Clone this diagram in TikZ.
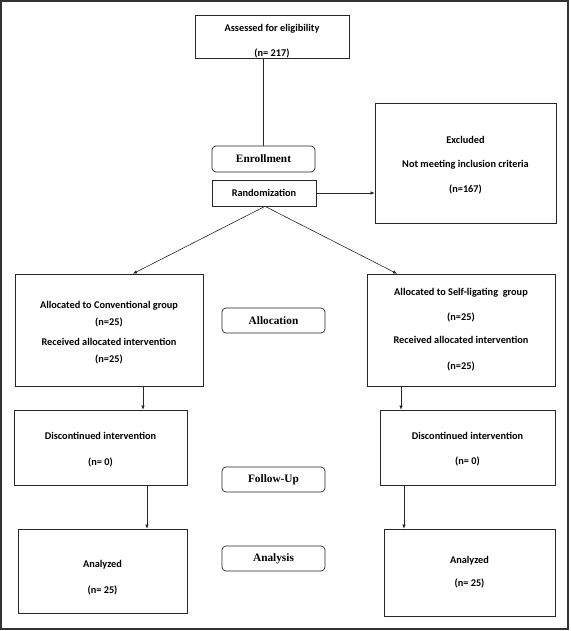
\documentclass[tikz,border=0pt]{standalone}
\usepackage{fontspec}
\usepackage{xcolor}
\usepackage{tikz}
\usetikzlibrary{arrows.meta,positioning}
\newfontfamily\boxfont{Carlito}
\newfontfamily\stagefont{Liberation Serif}

\begin{document}
\begin{tikzpicture}[x=1pt,y=-1pt,
    box/.style={draw=black!85,line width=0.7pt,align=center,inner sep=0pt,
      font=\boxfont\bfseries\fontsize{10.3}{12}\selectfont},
    stage/.style={draw=black!85,line width=0.7pt,rounded corners=4pt,
      minimum width=103pt,minimum height=25pt,inner sep=0pt,
      font=\stagefont\bfseries\fontsize{11.3}{13}\selectfont},
    flow/.style={draw=black!85,line width=0.6pt,-{Latex[length=4pt,width=3.5pt]}}]
    \useasboundingbox (0,0) rectangle (570,631);
    \draw[black!80,line width=2pt] (1,1) rectangle (568,629);

    % enrollment
    \node[box,minimum width=154pt,minimum height=43pt] (assess) at (272,36.5)
      {\\[4pt]Assessed for eligibility\\[13pt](n= 217)};
    \node[stage,minimum height=26pt] (enroll) at (263.5,159) {Enrollment};
    \node[box,minimum width=104pt,minimum height=26pt] (random) at (264,193) {Randomization};
    \node[box,minimum width=181pt,minimum height=120pt] (excl) at (465.5,163)
      {\\[-1pt]Excluded\\[12.5pt]Not meeting inclusion criteria\\[12.5pt](n=167)};

    % allocation
    \node[box,minimum width=188pt,minimum height=112pt] (allocL) at (109,330)
      {\\[0pt]Allocated to Conventional group\\[5pt](n=25)\\[8pt]Received allocated intervention\\[5pt](n=25)};
    \node[box,minimum width=188pt,minimum height=112pt] (allocR) at (461,330)
      {Allocated to Self-ligating\ \ group\\[13pt](n=25)\\[11pt]Received allocated intervention\\[14pt](n=25)};
    \node[stage] (alloc) at (273.5,320.5) {Allocation};

    % follow-up
    \node[box,minimum width=173pt,minimum height=75pt] (discL) at (100.5,447.5)
      {\\[-1pt]Discontinued intervention\\[14pt](n= 0)};
    \node[box,minimum width=175pt,minimum height=75pt] (discR) at (467.5,447.5)
      {\\[-1pt]Discontinued intervention\\[13pt](n= 0)};
    \node[stage] (follow) at (273.5,479.5) {Follow-Up};

    % analysis
    \node[box,minimum width=169pt,minimum height=84pt] (anaL) at (102.5,571)
      {\\[8pt]Analyzed\\[14pt](n= 25)};
    \node[box,minimum width=171pt,minimum height=87pt] (anaR) at (469.5,572.5)
      {Analyzed\\[11pt](n= 25)};
    \node[stage] (analysis) at (273.5,558.5) {Analysis};

    % connectors
    \draw[draw=black!85,line width=0.6pt] (enroll.north |- assess.south) -- (enroll.north);
    \draw[flow] (random.east) -- (random.east -| excl.west);
    \draw[flow] ([xshift=1pt]random.south) -- ([xshift=24pt]allocL.north);
    \draw[flow] ([xshift=1pt]random.south) -- ([xshift=-64pt]allocR.north);
    \draw[flow] ([xshift=34pt]allocL.south) -- ([xshift=34pt]allocL.south |- discL.north);
    \draw[flow] ([xshift=-60pt]allocR.south) -- ([xshift=-60pt]allocR.south |- discR.north);
    \draw[flow] ([xshift=46.5pt]discL.south) -- ([xshift=46.5pt]discL.south |- anaL.north);
    \draw[flow] ([xshift=-63.5pt]discR.south) -- ([xshift=-63.5pt]discR.south |- anaR.north);
  \end{tikzpicture}
\end{document}
